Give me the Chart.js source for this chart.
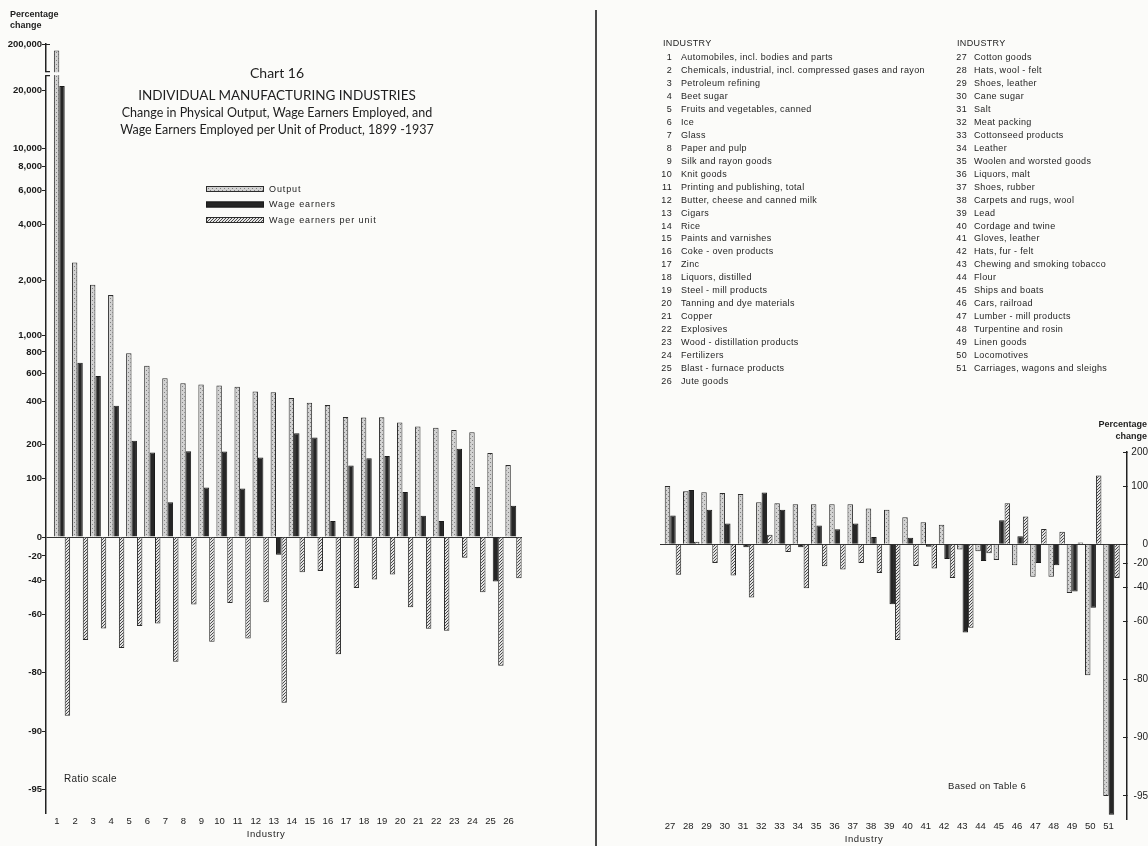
<!DOCTYPE html>
<html>
<head>
<meta charset="utf-8">
<title>Chart 16</title>
<script src="https://cdn.jsdelivr.net/npm/chart.js@4.4.1/dist/chart.umd.min.js"></script>
<style>
  html, body { margin: 0; padding: 0; }
  body {
    width: 1148px; height: 846px; position: relative; overflow: hidden;
    background: #fbfbf9; color: #1e1e1e;
    font-family: "Liberation Sans", Arial, sans-serif;
  }
  canvas { position: absolute; top: 0; }
  #leftChart { left: 0; }
  #rightChart { left: 600px; }
  .txt { position: absolute; white-space: nowrap; line-height: 1; }
  .title { font-family: Lato, sans-serif; left: 0; width: 554px; text-align: center; }
  .unit { font-size: 9px; font-weight: bold; }
  .note { font-size: 10px; letter-spacing: 0.3px; }
  .axisname { font-size: 9.5px; letter-spacing: 0.6px; width: 80px; text-align: center; }
  .list { font-size: 9px; letter-spacing: 0.35px; }
  .num { text-align: right; width: 20px; }
  #divider { position: absolute; left: 595px; top: 10px; width: 1.5px; height: 836px; background: #4a4a4a; }
</style>
</head>
<body>
<canvas id="leftChart" width="590" height="846"></canvas>
<canvas id="rightChart" width="548" height="846"></canvas>
<div id="divider"></div>

<div class="txt unit" style="left:10px;top:10px">Percentage</div>
<div class="txt unit" style="left:10px;top:21px">change</div>
<div class="txt unit" style="left:1047px;top:420px;width:100px;text-align:right">Percentage</div>
<div class="txt unit" style="left:1047px;top:432px;width:100px;text-align:right">change</div>

<div class="txt title" style="top:66px;font-size:14px">Chart 16</div>
<div class="txt title" style="top:89px;font-size:13.5px">INDIVIDUAL MANUFACTURING INDUSTRIES</div>
<div class="txt title" style="top:107px;font-size:12.5px">Change in Physical Output, Wage Earners Employed, and</div>
<div class="txt title" style="top:124px;font-size:12.5px">Wage Earners Employed per Unit of Product, 1899 -1937</div>

<div class="txt note" style="left:64px;top:774px">Ratio scale</div>
<div class="txt note" style="left:948px;top:781px;font-size:9.5px">Based on Table 6</div>
<div class="txt axisname" style="left:226px;top:829px">Industry</div>
<div class="txt axisname" style="left:824px;top:834px">Industry</div>

<div id="lists"></div>

<script>
// industry numbers on each page
const industriesLeft = [1, 2, 3, 4, 5, 6, 7, 8, 9, 10, 11, 12, 13, 14, 15, 16, 17, 18, 19, 20, 21, 22, 23, 24, 25, 26];
const industriesRight = [27, 28, 29, 30, 31, 32, 33, 34, 35, 36, 37, 38, 39, 40, 41, 42, 43, 44, 45, 46, 47, 48, 49, 50, 51];

// percentage change 1899-1937
const outputLeft = [185000, 2500, 1900, 1670, 785, 663, 558, 520, 512, 505, 495, 462, 457, 421, 392, 380, 316, 313, 314, 290, 271, 266, 256, 247, 171, 135];
const wageLeft = [21000, 692, 576, 375, 214, 173, 51, 177, 80, 176, 78, 157, -19, 243, 226, 21, 134, 155, 162, 71, 29, 21, 185, 81, -41, 45];
const perUnitLeft = [-88, -70.5, -66.2, -73.2, -65.2, -64.1, -77.2, -55.1, -71.1, -54.2, -70, -53.8, -86, -34.2, -33.2, -75.1, -45.3, -39.5, -35.9, -56.5, -66.3, -67.1, -21.7, -48.1, -78.3, -38.6];

const outputRight = [100, 88, 86, 84, 82, 65, 63, 61, 61, 61, 61, 53, 51, 38, 30, 26, -6, -8, -17, -22, -32, -32, -44, -79, -95];
const wageRight = [41, 91, 51, 28, -3.5, 85, 51, -3.5, 25, 19.5, 28, 9, -51, 8, -3, -16, -65, -18, 33, 10, -20, -22, -43, -53, -96];
const perUnitRight = [-30.5, 3, -20, -31, -47, 12, -8.7, -40.7, -23, -26, -20, -29, -68, -22.7, -25, -33, -63, -10, 63, 39, 20, 16, 2, 127, -33];

const ticksLeft = [200000, 20000, 10000, 8000, 6000, 4000, 2000, 1000, 800, 600, 400, 200, 100, 0, -20, -40, -60, -80, -90, -95];
const ticksRight = [200, 100, 0, -20, -40, -60, -80, -90, -95];

const seriesNames = ['Output', 'Wage earners', 'Wage earners per unit'];

const industryNames = [
  'Automobiles, incl. bodies and parts', 'Chemicals, industrial, incl. compressed gases and rayon',
  'Petroleum refining', 'Beet sugar', 'Fruits and vegetables, canned', 'Ice', 'Glass', 'Paper and pulp',
  'Silk and rayon goods', 'Knit goods', 'Printing and publishing, total', 'Butter, cheese and canned milk',
  'Cigars', 'Rice', 'Paints and varnishes', 'Coke - oven products', 'Zinc', 'Liquors, distilled',
  'Steel - mill products', 'Tanning and dye materials', 'Copper', 'Explosives', 'Wood - distillation products',
  'Fertilizers', 'Blast - furnace products', 'Jute goods',
  'Cotton goods', 'Hats, wool - felt', 'Shoes, leather', 'Cane sugar', 'Salt', 'Meat packing',
  'Cottonseed products', 'Leather', 'Woolen and worsted goods', 'Liquors, malt', 'Shoes, rubber',
  'Carpets and rugs, wool', 'Lead', 'Cordage and twine', 'Gloves, leather', 'Hats, fur - felt',
  'Chewing and smoking tobacco', 'Flour', 'Ships and boats', 'Cars, railroad', 'Lumber - mill products',
  'Turpentine and rosin', 'Linen goods', 'Locomotives', 'Carriages, wagons and sleighs'
];

// ratio scale: log of (100 + change); the top of the left axis is broken
const ZERO = 2;
const BREAK_FROM = 100000;
const BREAK_SHIFT = 0.76;
const GAP = [4.381, 4.396];
function ratioPos(p) {
  const l = Math.log10(100 + p);
  return p > BREAK_FROM ? l - BREAK_SHIFT : l;
}

const PAPER = '#fbfbf9';

function makePattern(size, draw) {
  const c = document.createElement('canvas');
  c.width = c.height = size;
  const g = c.getContext('2d');
  draw(g);
  return g.createPattern(c, 'repeat');
}

const outputFill = makePattern(4, g => {
  g.fillStyle = '#d2d2d2'; g.fillRect(0, 0, 4, 4);
  g.fillStyle = '#808080'; g.fillRect(0, 0, 1, 1); g.fillRect(2, 2, 1, 1);
});
const perUnitFill = makePattern(3, g => {
  g.fillStyle = '#e4e4e4'; g.fillRect(0, 0, 3, 3);
  g.fillStyle = '#4a4a4a';
  g.fillRect(0, 2, 1, 1); g.fillRect(1, 1, 1, 1); g.fillRect(2, 0, 1, 1);
});
const fills = [outputFill, '#262626', perUnitFill];
const edges = ['#2c2c2c', '#1a1a1a', '#2c2c2c'];

function buildDatasets(industries, output, wage, perUnit) {
  return [output, wage, perUnit].map((vals, k) => ({
    label: seriesNames[k],
    data: industries.map((n, i) => ({ x: n, y: ratioPos(vals[i]) })),
    base: ZERO,
    backgroundColor: fills[k],
    borderColor: edges[k],
    borderWidth: 1,
    categoryPercentage: 0.9,
    barPercentage: 1
  }));
}

const fmt = p => p.toLocaleString('en-US');

function xAxis(industries, min, max, height, shift, pad) {
  return {
    type: 'linear', min: min, max: max, offset: false,
    afterBuildTicks: s => { s.ticks = industries.map(v => ({ value: v })); },
    afterFit: s => { s.height = height; },
    grid: { display: false, drawTicks: false, offset: false },
    border: { display: false },
    ticks: {
      autoSkip: false, maxRotation: 0, padding: pad, labelOffset: shift,
      color: '#222', font: { family: 'Liberation Sans', size: 9.5 },
      callback: v => String(v)
    }
  };
}

function yAxis(tickList, max, width, right) {
  return {
    type: 'linear', position: right ? 'right' : 'left',
    min: 0.578, max: max,
    afterBuildTicks: s => { s.ticks = tickList.map(p => ({ value: ratioPos(p) })); },
    afterFit: s => { s.width = width; },
    grid: {
      color: c => (c.tick && Math.abs(c.tick.value - ZERO) < 1e-9) ? '#333' : 'rgba(0,0,0,0)',
      lineWidth: 1, tickColor: '#222', tickLength: right ? -4 : 4
    },
    border: { color: '#222', width: 1.5 },
    ticks: {
      autoSkip: false, padding: right ? 7 : 0, color: '#1a1a1a',
      crossAlign: right ? 'far' : 'near',
      font: { family: 'Liberation Sans', size: right ? 10 : 9.5, weight: right ? 'normal' : 'bold' },
      callback: (v, i) => fmt(tickList[i])
    }
  };
}

const legendPlugin = {
  id: 'boxLegend',
  afterDraw(chart) {
    const ctx = chart.ctx;
    ctx.save();
    ctx.font = '9px "Liberation Sans"';
    ctx.letterSpacing = '0.9px';
    ctx.textBaseline = 'middle';
    chart.data.datasets.forEach((ds, i) => {
      const y = 189 + i * 15.5;
      ctx.fillStyle = ds.backgroundColor;
      ctx.fillRect(206, y - 3, 58, 6);
      ctx.strokeStyle = ds.borderColor;
      ctx.lineWidth = 1;
      ctx.strokeRect(206.5, y - 2.5, 57, 5);
      ctx.fillStyle = '#222';
      ctx.fillText(ds.label, 269, y + 0.5);
    });
    ctx.restore();
  }
};

const breakPlugin = {
  id: 'axisBreak',
  afterDatasetsDraw(chart) {
    const y = chart.scales.y, area = chart.chartArea, ctx = chart.ctx;
    const yTop = y.getPixelForValue(GAP[1]);
    const yBot = y.getPixelForValue(GAP[0]);
    ctx.save();
    ctx.fillStyle = PAPER;
    ctx.fillRect(area.left - 2, yTop, area.right - area.left + 2, yBot - yTop);
    ctx.strokeStyle = '#222';
    ctx.lineWidth = 1.2;
    ctx.beginPath();
    [area.top + 0.5, yTop - 0.5, yBot + 0.5].forEach(py => {
      ctx.moveTo(area.left - 0.5, py);
      ctx.lineTo(area.left + 4, py);
    });
    ctx.stroke();
    ctx.restore();
  }
};

function baseOptions(padding, scales) {
  return {
    responsive: false, animation: false, devicePixelRatio: 1,
    layout: { padding: padding },
    plugins: { legend: { display: false }, tooltip: { enabled: false }, title: { display: false } },
    scales: scales
  };
}

new Chart(document.getElementById('leftChart'), {
  type: 'bar',
  data: { datasets: buildDatasets(industriesLeft, outputLeft, wageLeft, perUnitLeft) },
  options: baseOptions({ left: 0, right: 68, top: 44, bottom: 0 }, {
    x: xAxis(industriesLeft, 0.114, 26.47, 33, -5, 3),
    y: yAxis(ticksLeft, ratioPos(200000), 46, false)
  }),
  plugins: [legendPlugin, breakPlugin]
});

new Chart(document.getElementById('rightChart'), {
  type: 'bar',
  data: { datasets: buildDatasets(industriesRight, outputRight, wageRight, perUnitRight) },
  options: baseOptions({ left: 60, right: 0, top: 452, bottom: 0 }, {
    x: xAxis(industriesRight, 26.29, 51.85, 26.7, -3, 1),
    y: yAxis(ticksRight, Math.log10(300), 21, true)
  })
});

// industry key on the right page
const lists = document.getElementById('lists');
function addText(text, left, top, cls) {
  const d = document.createElement('div');
  d.className = 'txt list ' + (cls || '');
  d.style.left = left + 'px';
  d.style.top = top + 'px';
  d.textContent = text;
  lists.appendChild(d);
}
addText('INDUSTRY', 663, 39);
addText('INDUSTRY', 957, 39);
industryNames.forEach((name, i) => {
  const second = i >= 26;
  const row = second ? i - 26 : i;
  const top = 53.3 + row * 12.94;
  addText(String(i + 1), second ? 947 : 652, top, 'num');
  addText(name, second ? 974 : 681, top);
});
</script>
</body>
</html>
